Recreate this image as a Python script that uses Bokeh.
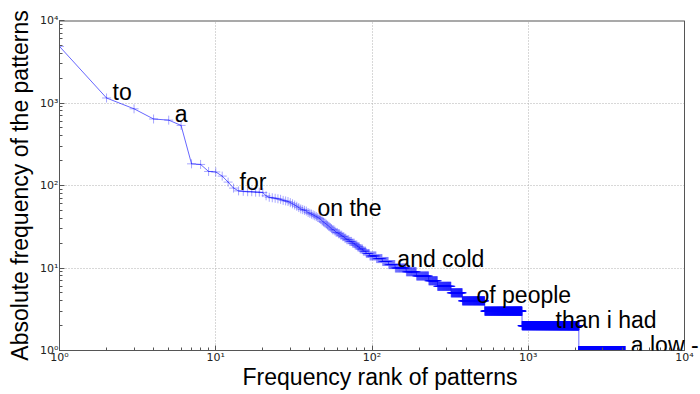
import numpy as np
from bokeh.plotting import figure
from bokeh.models import Label, CustomJSTickFormatter, ColumnDataSource, Range1d, Span
from bokeh.embed import file_html
from bokeh.resources import INLINE

# Frequencies of the most frequent patterns, rank 1..96
head_freqs = [4850, 1150, 850, 640, 620, 535, 183, 180, 148, 146,
              130, 110, 93, 86, 85, 84, 84, 83, 83, 82,
              75, 72, 71, 70, 69, 68, 66, 65, 64, 62,
              60, 58, 56, 54, 52, 51, 50, 49, 47, 46,
              45, 44, 43, 42, 41, 40, 39, 37, 36, 35,
              34, 33, 32, 31, 30, 29, 29, 28, 27, 27,
              26, 26, 25, 25, 24, 24, 23, 23, 22, 22,
              22, 21, 21, 21, 20, 20, 20, 19, 19, 19,
              18, 18, 18, 17, 17, 17, 17, 16, 16, 16,
              16, 15, 15, 15, 15, 15]
# Low frequencies: how many patterns share each frequency
tail_values = [14, 13, 12, 11, 10, 9, 8, 7, 6, 5, 4, 3, 2, 1]
tail_counts = [10, 10, 11, 13, 25, 27, 38, 32, 58, 58, 148, 386, 1195, 2043]

annot_texts = ["to", "a", "for", "on the", "and cold", "of people", "than i had", "a low -"]
annot_ranks = [2, 5, 13, 41, 133, 427, 1368, 4150]

X_MIN, X_MAX = 1, 1e4
Y_MIN, Y_MAX = 1, 1e4

freqs = list(head_freqs)
for v, c in zip(tail_values, tail_counts):
    freqs += [v] * c
ranks = list(range(1, len(freqs) + 1))
src = ColumnDataSource(dict(rank=ranks, freq=freqs))

# frame extends a little past 10^4 so the last annotation is not clipped
p = figure(width=700, height=394, x_axis_type="log", y_axis_type="log",
           x_range=Range1d(X_MIN, 10 ** 4.1024), y_range=Range1d(Y_MIN, Y_MAX),
           output_backend="svg", toolbar_location=None,
           min_border_left=59, min_border_right=0, min_border_top=20, min_border_bottom=44)
p.background_fill_color = "white"
p.border_fill_color = "white"
p.outline_line_color = None

p.line("rank", "freq", source=src, line_color="#0000ff", line_alpha=0.6, line_width=1)
p.scatter("rank", "freq", source=src, marker="cross", size=9, line_color="#0000ff",
          line_alpha=0.35, line_width=1)

fmt = CustomJSTickFormatter(code="""
const s = {0:'\u2070', 1:'\u00b9', 2:'\u00b2', 3:'\u00b3', 4:'\u2074'};
const e = Math.round(Math.log10(tick));
return '10' + (s[e] !== undefined ? s[e] : e);
""")

for ax in p.axis:
    ax.formatter = fmt
    ax.major_tick_in = 5
    ax.major_tick_out = 0
    ax.minor_tick_in = 3
    ax.minor_tick_out = 0
    ax.axis_line_color = "#555555"
    ax.major_tick_line_color = "#555555"
    ax.minor_tick_line_color = "#555555"
    ax.major_label_text_font = "DejaVu Sans"
    ax.major_label_text_font_size = "11px"
    ax.major_label_text_color = "#222222"
    ax.axis_label_text_font = "Liberation Sans"
    ax.axis_label_text_font_size = "23px"
    ax.axis_label_text_font_style = "normal"
    ax.axis_label_text_color = "black"
    ax.major_label_standoff = 1

p.xaxis.bounds = (X_MIN, X_MAX)
p.xaxis.axis_label = "Frequency rank of patterns"
p.yaxis.axis_label = "Absolute frequency of the patterns"
p.xaxis.axis_label_standoff = -3
p.xaxis.major_label_standoff = 0
p.yaxis.axis_label_standoff = 4

# right and top spines of the axes box
p.add_layout(Span(location=X_MAX, dimension="height", line_color="#555555", line_width=1))
p.segment(x0=[X_MIN], y0=[Y_MAX], x1=[X_MAX], y1=[Y_MAX], line_color="#555555", line_width=2)

p.grid.grid_line_color = "#b0b0b0"
p.grid.grid_line_dash = "1 2"
p.grid.grid_line_width = 1
p.ygrid.cross_bounds = (X_MIN, X_MAX)

for i, t in enumerate(annot_texts):
    r = annot_ranks[i]
    f = freqs[r - 1]
    p.add_layout(Label(x=r, y=f, text=t, x_offset=6, y_offset=6,
                       text_font="Liberation Sans", text_font_size="23px",
                       text_baseline="alphabetic", text_color="black"))

open("out.html", "w").write(file_html(p, INLINE))
